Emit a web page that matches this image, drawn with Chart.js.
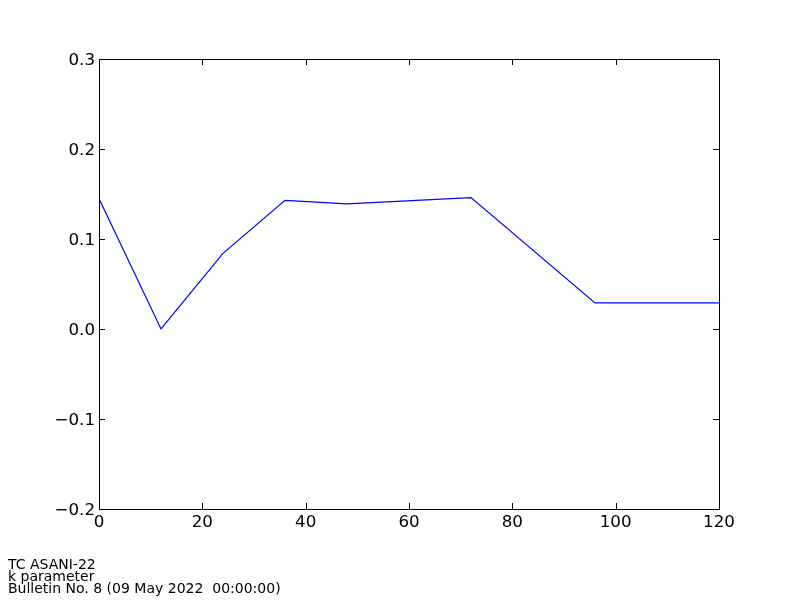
<!DOCTYPE html>
<html>
<head>
<meta charset="utf-8">
<script src="https://cdn.jsdelivr.net/npm/chart.js@4.4.1/dist/chart.umd.min.js"></script>
<style>
  body { margin: 0; background: #fff; }
  #wrap { position: relative; width: 800px; height: 600px; }
  #note {
    position: absolute; left: 8px; top: 558px;
    font-family: "DejaVu Sans", sans-serif; font-size: 14px; line-height: 12px;
    white-space: pre; color: #000;
  }
</style>
</head>
<body>
<div id="wrap">
  <canvas id="myChart" width="800" height="600"></canvas>
  <div id="note">TC ASANI-22
k parameter
Bulletin No. 8 (09 May 2022  00:00:00)</div>
</div>
<script>
// forecast hours and k parameter
var hours = [0, 12, 24, 36, 48, 72, 96, 120];
var kValues = [0.145, 0.0, 0.084, 0.143, 0.139, 0.146, 0.029, 0.029];
var xTicks = [0, 20, 40, 60, 80, 100, 120];
var yTicks = [-0.2, -0.1, 0.0, 0.1, 0.2, 0.3];

// frame + inward ticks on all four sides, like matplotlib classic
var frameTicks = {
    id: 'frameTicks',
    afterDraw: function (chart) {
        var ctx = chart.ctx, a = chart.chartArea;
        var xs = chart.scales.x, ys = chart.scales.y;
        var len = 6;
        ctx.save();
        ctx.strokeStyle = '#000';
        ctx.lineWidth = 1;
        ctx.strokeRect(Math.round(a.left) + 0.5, Math.round(a.top) + 0.5,
            Math.round(a.right - a.left), Math.round(a.bottom - a.top));
        ctx.beginPath();
        xTicks.forEach(function (v) {
            var px = Math.round(xs.getPixelForValue(v)) + 0.5;
            ctx.moveTo(px, a.bottom); ctx.lineTo(px, a.bottom - len);
            ctx.moveTo(px, a.top); ctx.lineTo(px, a.top + len);
        });
        yTicks.forEach(function (v) {
            var py = Math.round(ys.getPixelForValue(v)) + 0.5;
            ctx.moveTo(a.left, py); ctx.lineTo(a.left + len, py);
            ctx.moveTo(a.right, py); ctx.lineTo(a.right - len, py);
        });
        ctx.stroke();
        ctx.restore();
    }
};

var ctx = document.getElementById('myChart').getContext('2d');
new Chart(ctx, {
    type: 'line',
    data: {
        datasets: [{
            data: hours.map(function (h, i) { return { x: h, y: kValues[i] }; }),
            borderColor: '#0000ff',
            borderWidth: 1.2,
            pointRadius: 0,
            tension: 0,
            fill: false
        }]
    },
    options: {
        responsive: false,
        animation: false,
        layout: { padding: { left: 0, top: 59, right: 81, bottom: 0 } },
        plugins: { legend: { display: false }, tooltip: { enabled: false } },
        scales: {
            x: {
                type: 'linear',
                min: 0, max: 120,
                afterBuildTicks: function (s) { s.ticks = xTicks.map(function (v) { return { value: v }; }); },
                afterFit: function (s) { s.height = 91; },
                grid: { display: false, drawTicks: false },
                border: { display: false },
                ticks: {
                    padding: 4,
                    color: '#000',
                    maxRotation: 0,
                    font: { family: 'DejaVu Sans', size: 16.7 }
                }
            },
            y: {
                min: -0.2, max: 0.3,
                afterBuildTicks: function (s) { s.ticks = yTicks.map(function (v) { return { value: v }; }); },
                afterFit: function (s) { s.width = 99; },
                grid: { display: false, drawTicks: false },
                border: { display: false },
                ticks: {
                    padding: 4,
                    labelOffset: 2,
                    color: '#000',
                    font: { family: 'DejaVu Sans', size: 16.7 },
                    callback: function (v) { return Number(v).toFixed(1).replace('-', '\u2212'); }
                }
            }
        }
    },
    plugins: [frameTicks]
});
</script>
</body>
</html>
